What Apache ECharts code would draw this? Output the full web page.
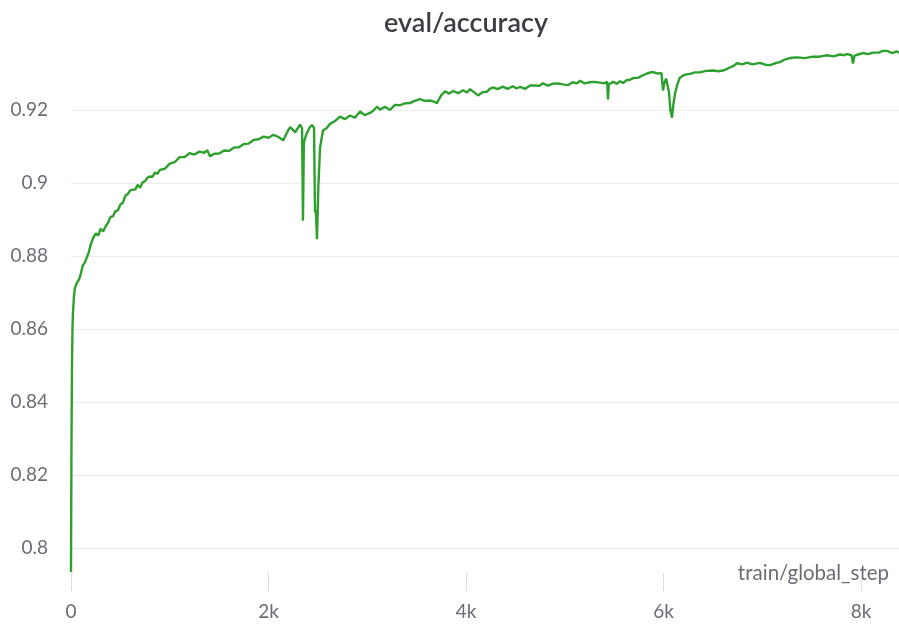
<!DOCTYPE html>
<html>
<head>
<meta charset="utf-8">
<script src="https://cdn.jsdelivr.net/npm/echarts@6/dist/echarts.min.js"></script>
<style>
  html, body { margin: 0; padding: 0; background: #fff; }
  #chart { width: 899px; height: 627px; }
</style>
</head>
<body>
<div id="chart"></div>
<script>
// values
const steps = [
  0, 5, 10, 15, 20, 30, 40, 60, 80, 100, 120, 140, 160, 180, 200, 225, 250, 275, 300, 325,
  350, 375, 400, 425, 450, 475, 500, 525, 550, 575, 600, 625, 650, 675, 700, 725, 750, 775, 800, 825,
  850, 875, 900, 950, 1000, 1050, 1100, 1150, 1200, 1250, 1300, 1350, 1380, 1408, 1450, 1500, 1550, 1600, 1650, 1700,
  1750, 1800, 1850, 1900, 1950, 2000, 2050, 2100, 2150, 2200, 2220, 2270, 2320, 2340, 2349, 2358, 2380, 2410, 2440, 2461,
  2471, 2480, 2491, 2505, 2522, 2552, 2590, 2623, 2670, 2724, 2775, 2825, 2875, 2927, 2975, 3028, 3060, 3099, 3129, 3180,
  3231, 3280, 3332, 3380, 3433, 3480, 3534, 3580, 3636, 3680, 3706, 3750, 3788, 3830, 3869, 3920, 3970, 4010, 4041, 4080,
  4122, 4170, 4213, 4240, 4274, 4320, 4375, 4420, 4476, 4510, 4547, 4600, 4648, 4700, 4740, 4780, 4830, 4881, 4930, 4982,
  5030, 5080, 5124, 5155, 5200, 5256, 5300, 5357, 5400, 5430, 5438, 5446, 5490, 5529, 5560, 5590, 5630, 5661, 5700, 5742,
  5790, 5833, 5870, 5894, 5940, 5980, 5995, 6005, 6026, 6040, 6055, 6070, 6086, 6100, 6117, 6140, 6167, 6210, 6268, 6320,
  6370, 6430, 6502, 6550, 6603, 6640, 6674, 6710, 6745, 6800, 6846, 6900, 6977, 7030, 7079, 7130, 7180, 7220, 7251, 7300,
  7353, 7430, 7514, 7580, 7656, 7720, 7788, 7830, 7859, 7905, 7919, 7935, 7970, 8021, 8070, 8122, 8180, 8220, 8264, 8300,
  8324, 8360, 8385
];
const accuracy = [
  0.7935, 0.8300, 0.8500, 0.8600, 0.8645, 0.8690, 0.8712, 0.8727, 0.8735, 0.8752, 0.8775, 0.8782, 0.8796, 0.8810, 0.8832, 0.8850, 0.8862, 0.8856, 0.8875, 0.8867,
  0.8881, 0.8891, 0.8907, 0.8909, 0.8923, 0.8925, 0.8941, 0.8946, 0.8965, 0.8970, 0.8980, 0.8982, 0.8982, 0.8995, 0.8987, 0.9002, 0.9005, 0.9015, 0.9018, 0.9017,
  0.9029, 0.9025, 0.9036, 0.9039, 0.9053, 0.9057, 0.9071, 0.9071, 0.9082, 0.9078, 0.9086, 0.9083, 0.9090, 0.9073, 0.9080, 0.9081, 0.9089, 0.9088, 0.9097, 0.9098,
  0.9107, 0.9108, 0.9118, 0.9120, 0.9127, 0.9124, 0.9132, 0.9126, 0.9117, 0.9145, 0.9153, 0.9139, 0.9160, 0.9150, 0.8897, 0.9110, 0.9131, 0.9149, 0.9159, 0.9151,
  0.8919, 0.8925, 0.8846, 0.8990, 0.9097, 0.9144, 0.9151, 0.9162, 0.9169, 0.9182, 0.9175, 0.9185, 0.9179, 0.9196, 0.9186, 0.9192, 0.9198, 0.9209, 0.9201, 0.9209,
  0.9200, 0.9214, 0.9213, 0.9218, 0.9219, 0.9225, 0.9230, 0.9225, 0.9226, 0.9222, 0.9219, 0.9241, 0.9251, 0.9245, 0.9252, 0.9246, 0.9254, 0.9248, 0.9257, 0.9249,
  0.9240, 0.9249, 0.9250, 0.9258, 0.9262, 0.9257, 0.9264, 0.9258, 0.9265, 0.9259, 0.9263, 0.9258, 0.9267, 0.9267, 0.9266, 0.9273, 0.9267, 0.9272, 0.9273, 0.9270,
  0.9268, 0.9276, 0.9273, 0.9280, 0.9273, 0.9276, 0.9277, 0.9275, 0.9273, 0.9277, 0.9229, 0.9270, 0.9277, 0.9272, 0.9279, 0.9274, 0.9282, 0.9283, 0.9288, 0.9288,
  0.9295, 0.9300, 0.9303, 0.9304, 0.9300, 0.9301, 0.9253, 0.9270, 0.9286, 0.9282, 0.9250, 0.9200, 0.9179, 0.9215, 0.9245, 0.9270, 0.9289, 0.9296, 0.9299, 0.9303,
  0.9303, 0.9307, 0.9308, 0.9306, 0.9308, 0.9312, 0.9317, 0.9321, 0.9328, 0.9325, 0.9330, 0.9325, 0.9329, 0.9324, 0.9323, 0.9328, 0.9331, 0.9337, 0.9340, 0.9343,
  0.9344, 0.9342, 0.9346, 0.9346, 0.9350, 0.9347, 0.9352, 0.9350, 0.9353, 0.9350, 0.9327, 0.9349, 0.9352, 0.9356, 0.9353, 0.9357, 0.9357, 0.9362, 0.9362, 0.9358,
  0.9356, 0.9361, 0.9357
];
const xTicks = [0, 2000, 4000, 6000, 8000];
const xTickLabels = ['0', '2k', '4k', '6k', '8k'];
const yTicks = [0.8, 0.82, 0.84, 0.86, 0.88, 0.9, 0.92];

const font = 'Lato, "Noto Sans", sans-serif';
const grey = '#6b6c75';

const chart = echarts.init(document.getElementById('chart'));
chart.setOption({
  animation: false,
  title: {
    text: 'eval/accuracy',
    left: 379,
    top: 5,
    textStyle: { fontFamily: font, fontSize: 27, fontWeight: 600, color: '#3b3d45' }
  },
  grid: { left: 71, right: 0, top: 45, bottom: 54 },
  xAxis: {
    type: 'value',
    min: 0,
    max: 8385,
    splitNumber: 4,
    name: 'train/global_step',
    nameLocation: 'end',
    nameGap: -10,
    nameTextStyle: {
      fontFamily: font, fontSize: 20.5, color: grey,
      align: 'right', verticalAlign: 'middle', padding: [0, 0, 12, 0]
    },
    axisLine: { show: false },
    axisTick: {
      show: true, length: 18, customValues: xTicks,
      lineStyle: { color: '#dcdcdc', width: 1 }
    },
    axisLabel: {
      customValues: xTicks,
      margin: 29,
      fontFamily: font, fontSize: 19, color: grey,
      formatter: v => xTickLabels[xTicks.indexOf(v)] ?? ''
    },
    splitLine: { show: false }
  },
  yAxis: {
    type: 'value',
    min: 0.7932,
    max: 0.9378,
    splitNumber: 7,
    axisLine: { show: false },
    axisTick: { show: false },
    axisLabel: {
      customValues: yTicks,
      margin: 23,
      fontFamily: font, fontSize: 19, color: grey,
      formatter: v => String(+v.toFixed(4))
    },
    splitLine: {
      show: true, showMinLine: false, showMaxLine: false,
      lineStyle: { color: '#ececec', width: 1 }
    }
  },
  series: [{
    type: 'line',
    data: steps.map((s, i) => [s, accuracy[i]]),
    showSymbol: false,
    clip: true,
    lineStyle: { color: '#2ea02e', width: 2.4 },
    itemStyle: { color: '#2ea02e' }
  }]
});
</script>
</body>
</html>
